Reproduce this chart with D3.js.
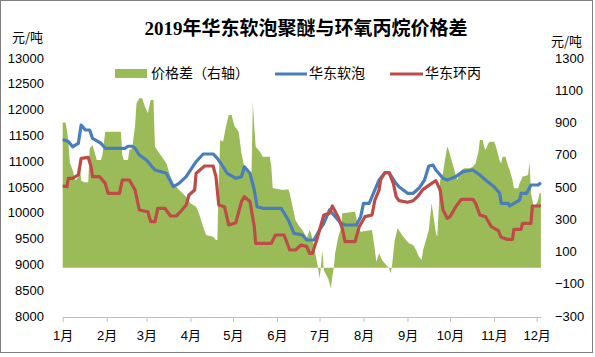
<!DOCTYPE html>
<html><head><meta charset="utf-8">
<script src="https://cdn.jsdelivr.net/npm/d3@7"></script>
<style>body{margin:0;background:#fff}svg{display:block}</style>
</head><body>
<script>
const titleText = "2019年华东软泡聚醚与环氧丙烷价格差";
const unitText = "元/吨";
const leftTicks = [8000,8500,9000,9500,10000,10500,11000,11500,12000,12500,13000];
const rightTicks = [-300,-100,100,300,500,700,900,1100,1300];
const monthTicks = ["01-01","02-01","03-01","04-01","05-01","06-01","07-01","08-01","09-01","10-01","11-01","12-01"];
const monthLabels = ["1月","2月","3月","4月","5月","6月","7月","8月","9月","10月","11月","12月"];
const seriesNames = ["价格差（右轴）","华东软泡","华东环丙"];

// 华东软泡
const foamDates = ["01-01","01-05","01-08","01-12","01-14","01-17","01-20","01-22","01-26","01-28","01-31","02-14","02-16","02-19","02-21","02-24","03-01","03-07","03-15","03-20","03-24","03-29","04-05","04-10","04-17","04-20","04-24","04-27","05-03","05-07","05-09","05-13","05-16","05-18","05-22","06-04","06-09","06-13","06-19","06-22","06-27","07-01","07-04","07-08","07-11","07-16","07-19","07-27","07-30","08-01","08-05","08-09","08-12","08-16","08-19","08-23","08-26","09-01","09-05","09-09","09-13","09-16","09-19","09-21","09-26","09-29","10-05","10-10","10-17","10-22","10-26","11-01","11-05","11-06","11-11","11-12","11-15","11-19","11-20","11-24","11-27","12-02","12-04"];
const foamValues = [11420,11380,11280,11345,11700,11605,11605,11444,11378,11345,11250,11250,11290,11290,11250,11120,11023,10830,10766,10506,10570,10700,10990,11140,11140,11055,10893,10766,10669,10700,10893,10766,10442,10118,10087,10087,9860,9600,9570,9473,9473,9667,9796,10054,9957,9796,9764,9764,9925,10184,10184,10442,10636,10777,10777,10603,10506,10378,10378,10475,10636,10907,10926,10830,10669,10636,10700,10797,10830,10733,10636,10506,10378,10184,10184,10132,10184,10248,10378,10378,10539,10539,10584];

// 华东环丙
const poDates = ["01-01","01-04","01-05","01-08","01-12","01-13","01-14","01-19","01-21","01-22","01-27","01-31","02-02","02-10","02-12","02-17","02-21","02-24","03-02","03-04","03-07","03-09","03-14","03-18","03-22","03-25","03-29","03-31","04-04","04-05","04-10","04-11","04-17","04-19","04-21","04-25","04-28","05-03","05-07","05-09","05-13","05-16","05-17","05-28","05-31","06-06","06-10","06-14","06-18","06-22","06-24","06-26","06-29","07-01","07-04","07-08","07-10","07-14","07-17","07-19","07-26","07-29","08-02","08-07","08-09","08-12","08-13","08-16","08-19","08-22","08-24","08-26","09-01","09-05","09-08","09-12","09-18","09-21","09-24","09-26","09-29","10-01","10-05","10-09","10-17","10-19","10-22","10-26","10-30","11-04","11-06","11-10","11-14","11-15","11-20","11-21","11-27","11-28","12-04"];
const poValues = [10520,10506,10669,10669,10733,10893,11055,11075,10893,10700,10700,10570,10378,10378,10636,10636,10442,10054,10021,9828,9828,10087,10087,9938,9938,10021,10150,10345,10442,10766,10882,10907,10907,10700,10150,10118,9764,9809,10216,10313,10216,9732,9409,9409,9570,9570,9279,9279,9376,9344,9215,9215,9473,9667,9957,9990,10132,9925,9700,9440,9440,9732,9925,9957,10248,10442,10636,10777,10777,10570,10313,10235,10204,10235,10313,10455,10570,10623,10442,10054,9893,9925,10118,10262,10262,10184,9957,9925,9732,9654,9525,9486,9486,9680,9680,9796,9796,10132,10132];

// 价格差（右轴）
const spreadDates = ["01-01","01-03","01-04","01-05","01-06","01-08","01-10","01-12","01-13","01-14","01-16","01-19","01-20","01-22","01-24","01-25","01-28","01-29","01-31","02-11","02-12","02-13","02-16","02-17","02-19","02-21","02-22","02-24","02-26","02-28","03-02","03-04","03-06","03-07","03-11","03-15","03-18","03-20","03-24","03-29","04-01","04-05","04-07","04-10","04-12","04-17","04-19","04-20","04-21","04-22","04-24","04-26","04-28","04-30","05-02","05-05","05-07","05-09","05-14","05-15","05-16","05-17","05-20","05-22","05-27","05-28","05-29","06-05","06-09","06-10","06-12","06-14","06-17","06-19","06-22","06-24","06-25","06-27","06-30","07-01","07-02","07-03","07-04","07-05","07-07","07-08","07-09","07-10","07-11","07-12","07-14","07-16","07-17","07-26","07-27","07-29","07-30","08-07","08-08","08-09","08-10","08-12","08-14","08-17","08-19","08-20","08-21","08-23","08-25","08-29","08-31","09-02","09-05","09-07","09-09","09-11","09-12","09-14","09-16","09-18","09-19","09-20","09-21","09-22","09-24","09-26","09-27","09-29","09-30","10-02","10-04","10-06","10-09","10-11","10-15","10-17","10-19","10-21","10-22","10-24","10-25","10-26","10-28","10-29","11-01","11-02","11-03","11-05","11-06","11-07","11-09","11-11","11-12","11-14","11-15","11-18","11-19","11-20","11-21","11-25","11-26","11-27","11-28","11-29","12-01","12-02","12-03","12-04"];
const spreadValues = [900,900,850,780,650,605,540,560,650,540,530,530,740,760,700,667,667,700,843,843,698,667,667,730,740,880,1020,1050,1050,998,957,1040,1040,750,698,647,564,523,481,440,399,378,337,254,202,192,171,171,543,791,780,874,947,947,880,843,710,620,560,1029,874,750,719,688,688,626,494,481,486,461,378,295,254,233,182,233,213,140,-4,-66,6,109,-15,-35,-66,-97,-128,-56,-4,89,182,244,337,347,306,233,223,233,171,109,37,89,47,16,-4,-35,6,171,244,192,171,151,140,109,68,47,109,171,233,399,337,275,213,192,543,585,647,750,730,667,605,543,605,616,616,626,647,719,791,791,750,730,771,781,781,760,730,660,647,688,688,626,605,543,492,492,523,543,564,574,657,461,419,368,399,419,461,461];

const colors = {spread:"#9BBB59", foam:"#4A7EBB", po:"#BE4B48"};
const W = 595, H = 357;
const numFont = "'Liberation Sans','Noto Sans CJK SC',sans-serif";
const cjkFont = "'Noto Sans CJK SC',sans-serif";

const parse = d3.timeParse("%Y-%m-%d");
const dt = s => parse("2019-" + s);
const zip = (ds, vs) => ds.map((d, i) => ({date: dt(d), v: vs[i]}));
const foam = zip(foamDates, foamValues);
const po = zip(poDates, poValues);
const spread = zip(spreadDates, spreadValues);

const svg = d3.select("body").append("svg").attr("width", W).attr("height", H);
svg.append("rect").attr("x", 0.5).attr("y", 0.5).attr("width", 592).attr("height", 352)
  .attr("fill", "#fff").attr("stroke", "#7f7f7f").attr("stroke-width", 1);

const x = d3.scaleTime().domain([dt("01-01"), dt("12-04")]).range([62.7, 540.9]);
const yL = d3.scaleLinear().domain([8000, 13000]).range([316, 58]);
const yR = d3.scaleLinear().domain([-300, 1300]).range([316, 58]);

// area
svg.append("path").datum(spread)
  .attr("fill", colors.spread)
  .attr("d", d3.area().x(d => x(d.date)).y0(yR(0)).y1(d => yR(d.v)));

const line = y => d3.line().x(d => x(d.date)).y(d => y(d.v));
svg.append("path").datum(foam).attr("fill", "none").attr("stroke", colors.foam)
  .attr("stroke-width", 3.2).attr("stroke-linejoin", "round").attr("d", line(yL));
svg.append("path").datum(po).attr("fill", "none").attr("stroke", colors.po)
  .attr("stroke-width", 3.2).attr("stroke-linejoin", "round").attr("d", line(yL));

// x axis
const xAxis = svg.append("g").attr("transform", "translate(0,317)")
  .call(d3.axisBottom(x).tickValues(monthTicks.map(dt)).tickSizeInner(5).tickSizeOuter(0)
    .tickFormat((d, i) => monthLabels[i]).tickPadding(9));
xAxis.select(".domain").attr("stroke", "#BFBFBF");
xAxis.selectAll(".tick line").attr("stroke", "#BFBFBF");
xAxis.selectAll("text").attr("font-family", numFont).attr("font-size", 13).attr("fill", "#000");

// left axis
const lAxis = svg.append("g").attr("transform", "translate(47,0)")
  .call(d3.axisLeft(yL).tickValues(leftTicks).tickSize(0).tickPadding(3).tickFormat(d3.format("d")));
lAxis.select(".domain").remove();
lAxis.selectAll("text").attr("font-family", numFont).attr("font-size", 13).attr("fill", "#000");

// right axis
const rAxis = svg.append("g").attr("transform", "translate(552,0)")
  .call(d3.axisRight(yR).tickValues(rightTicks).tickSize(0).tickPadding(3).tickFormat(d3.format("d")));
rAxis.select(".domain").remove();
rAxis.selectAll("text").attr("font-family", numFont).attr("font-size", 13).attr("fill", "#000");

// title & units
svg.append("text").attr("x", 306).attr("y", 31).attr("text-anchor", "middle")
  .attr("dominant-baseline", "middle")
  .attr("font-family", "'Liberation Serif','Noto Sans CJK SC',serif").attr("font-weight", "bold")
  .attr("font-size", 19).text(titleText);
svg.append("text").attr("x", 12).attr("y", 38).attr("dominant-baseline", "middle")
  .attr("font-family", cjkFont).attr("font-size", 13).text(unitText);
svg.append("text").attr("x", 551).attr("y", 42).attr("dominant-baseline", "middle")
  .attr("font-family", cjkFont).attr("font-size", 13).text(unitText);

// legend
const lg = svg.append("g").attr("font-family", cjkFont).attr("font-size", 14);
lg.append("rect").attr("x", 115).attr("y", 69).attr("width", 32).attr("height", 9).attr("fill", colors.spread);
lg.append("text").attr("x", 151).attr("y", 74).attr("dominant-baseline", "middle").text(seriesNames[0]);
lg.append("line").attr("x1", 275).attr("x2", 307).attr("y1", 74).attr("y2", 74)
  .attr("stroke", colors.foam).attr("stroke-width", 3);
lg.append("text").attr("x", 309).attr("y", 74).attr("dominant-baseline", "middle").text(seriesNames[1]);
lg.append("line").attr("x1", 390).attr("x2", 423).attr("y1", 74).attr("y2", 74)
  .attr("stroke", colors.po).attr("stroke-width", 3);
lg.append("text").attr("x", 425).attr("y", 74).attr("dominant-baseline", "middle").text(seriesNames[2]);
</script>
</body></html>
